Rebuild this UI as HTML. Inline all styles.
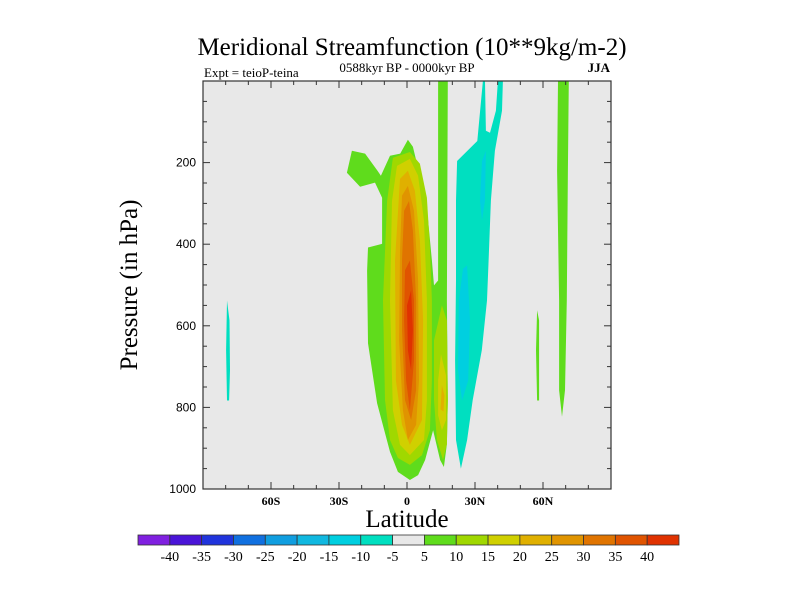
<!DOCTYPE html>
<html><head><meta charset="utf-8"><style>
body{margin:0;background:#fff;width:800px;height:600px;overflow:hidden}
svg{display:block}
.serif{font-family:"Liberation Serif",serif}
.sans{font-family:"Liberation Sans",sans-serif}
</style></head><body>
<svg id="chart" width="800" height="600" xmlns="http://www.w3.org/2000/svg">
<text class="serif" x="412" y="55" font-size="25" text-anchor="middle">Meridional Streamfunction (10**9kg/m-2)</text>
<text class="serif" x="407" y="72" font-size="13" text-anchor="middle">0588kyr BP - 0000kyr BP</text>
<text class="serif" x="204" y="77" font-size="13">Expt = teioP-teina</text>
<text class="serif" x="610" y="72" font-size="13" font-weight="bold" text-anchor="end">JJA</text>
<text class="serif" font-size="25" text-anchor="middle" transform="translate(137,285) rotate(-90)">Pressure (in hPa)</text>
<text class="serif" x="407" y="527" font-size="25" text-anchor="middle">Latitude</text>
<g id="plot"></g>
<g id="bar"></g>
</svg>
<script>
const levels=[-45,-40,-35,-30,-25,-20,-15,-10,-5,5,10,15,20,25,30,35,40,45];
const colors=["#8020e0","#4a14d8","#2034dc","#1070e0","#109ee0","#10b8e0","#00cfe0","#00dfc0","#e8e8e8","#5fdc1c","#a0d800","#d0d000","#e0b000","#e09400","#e07400","#e05400","#e03200"];
const barLabels=["-40","-35","-30","-25","-20","-15","-10","-5","5","10","15","20","25","30","35","40"];
const xTicks=[-60,-30,0,30,60];
const xTickLabels=["60S","30S","0","30N","60N"];
const yTicks=[200,400,600,800,1000];
// contour regions: band lower bound v, then [lat, hPa] vertices
const regions=[
 {v:5,pts:[[-24.3,171],[-18.5,178],[-13,220],[-11.5,232],[-7.5,183],[-3,178],[0.4,144],[2.6,161],[5.7,232],[9.3,342],[11,440],[11.9,501],[13.7,489],[13.7,0],[18,0],[17.6,538],[18,782],[17.6,890],[16.3,946],[14.6,929],[11.5,856],[8,929],[4.9,966],[1.3,978],[-4,958],[-7.5,909],[-13.2,790],[-17.2,643],[-17.6,465],[-17.2,408],[-11,399],[-11,286],[-14.1,249],[-20.7,259],[-26.5,225]]},
 {v:10,pts:[[-6.2,188],[1.3,174],[5.7,203],[8.8,286],[10.1,408],[11,538],[11,734],[10.1,856],[6.6,917],[1.3,941],[-4,924],[-7.5,880],[-9.7,782],[-10.6,538],[-8.8,294]]},
 {v:10,pts:[[15.4,550],[17.6,587],[18,782],[17.6,890],[15.9,929],[13.2,880],[11.9,782],[11.9,636]]},
 {v:15,pts:[[15,670],[17.2,721],[17.2,831],[15.4,856],[13.7,819],[13.7,734]]},
 {v:20,pts:[[15.4,745],[16.5,770],[16.1,810],[14.8,805]]},
 {v:15,pts:[[-4.4,208],[1.3,191],[4.9,232],[7.5,342],[8.8,538],[8.8,782],[7.5,880],[1.3,917],[-3.1,892],[-6.2,807],[-7.5,538],[-6.6,294]]},
 {v:20,pts:[[-3.1,240],[0.4,220],[3.5,269],[5.7,391],[7.1,587],[6.6,831],[1.3,892],[-2.2,843],[-4.9,734],[-5.3,440]]},
 {v:25,pts:[[-2.2,281],[0.4,257],[3.1,318],[4.9,489],[5.3,734],[4,843],[0.4,880],[-1.8,807],[-3.5,636],[-3.1,416]]},
 {v:30,pts:[[-1.3,318],[0.9,294],[2.6,367],[4,538],[4,758],[1.8,831],[-0.9,782],[-2.2,611],[-2.2,440]]},
 {v:35,pts:[[-0.9,464],[1.3,440],[3.1,538],[3.1,685],[1.3,807],[-0.4,734],[-1.3,587]]},
 {v:40,pts:[[0,550],[1.8,513],[2.6,611],[1.8,709],[0.4,660]]},
 {v:-10,pts:[[22.1,196],[31,147],[33.5,0],[34.4,0],[34.8,122],[36.6,127],[39.2,73],[40.1,0],[42.3,0],[41.9,73],[38.8,171],[37,293],[36,440],[35.3,538],[33,660],[29,782],[26.5,880],[23.8,950],[21.6,880],[21.2,685],[21.6,489],[21.6,293]]},
 {v:-15,pts:[[33.1,196],[34.8,171],[34.4,293],[33.1,342],[32.2,293]]},
 {v:-15,pts:[[24.7,460],[26.5,452],[27.8,587],[27,734],[24.3,783],[22.5,709],[22.9,538]]},
 {v:5,pts:[[66.6,0],[71.4,0],[71,220],[70.5,538],[69.7,758],[68.4,823],[67.1,758],[67.1,538],[66.2,220]]},
 {v:5,pts:[[57.4,562],[58.3,587],[58.3,783],[57.4,783],[56.9,660]]},
 {v:-10,pts:[[-79.4,538],[-78.3,587],[-78.1,709],[-78.5,783],[-79.4,783],[-79.8,660]]}
];
const L=203,R=611,T=81,B=489;
const xs=lat=>L+(lat+90)/180*(R-L);
const ys=p=>T+p/1000*(B-T);
const NS="http://www.w3.org/2000/svg";
function mk(tag,attrs,parent){const e=document.createElementNS(NS,tag);for(const k in attrs)e.setAttribute(k,attrs[k]);parent.appendChild(e);return e;}
function colorFor(v){for(let i=0;i<colors.length;i++){if(v>=levels[i]&&v<levels[i+1])return colors[i];}return colors[colors.length-1];}
const plot=document.getElementById('plot');
const bg=mk('rect',{x:L,y:T,width:R-L,height:B-T,fill:"#e8e8e8"},plot);


regions.forEach((r,i)=>{
 const pg=mk('polygon',{points:r.pts.map(p=>xs(p[0]).toFixed(1)+","+ys(p[1]).toFixed(1)).join(" "),fill:colorFor(r.v)},plot);
 
 
});
const frame=mk('rect',{x:L,y:T,width:R-L,height:B-T,fill:"none",stroke:"#333",'stroke-width':1.2},plot);


for(let lat=-80;lat<=80;lat+=10){
 const x=xs(lat),len=(lat%30===0)?7:4;
 const t1=mk('line',{x1:x,x2:x,y1:B,y2:B-len,stroke:"#333"},plot);
 
 
 const t2=mk('line',{x1:x,x2:x,y1:T,y2:T+len,stroke:"#333"},plot);
 
 
}
xTicks.forEach((v,i)=>{
 const t=mk('text',{x:xs(v),y:B+16,'font-size':12,'font-weight':'bold','text-anchor':'middle',class:'serif'},plot);
 t.textContent=xTickLabels[i];
 
 
});
for(let p=50;p<1000;p+=50){
 const y=ys(p),len=(p%200===0)?7:4;
 const t1=mk('line',{x1:L,x2:L+len,y1:y,y2:y,stroke:"#333"},plot);
 
 
 const t2=mk('line',{x1:R,x2:R-len,y1:y,y2:y,stroke:"#333"},plot);
 
 
}
yTicks.forEach(v=>{
 const t=mk('text',{x:L-7,y:ys(v)+4,'font-size':12,'text-anchor':'end',class:'sans'},plot);
 t.textContent=v;
 
 
});
const bar=document.getElementById('bar');
const bx=138,bw=(679-138)/colors.length,by=535,bh=10;
colors.forEach((c,i)=>{
 const r=mk('rect',{x:bx+i*bw,y:by,width:bw,height:bh,fill:c,stroke:"#333",'stroke-width':0.8},bar);
 
 
});
barLabels.forEach((s,i)=>{
 const t=mk('text',{x:bx+(i+1)*bw,y:by+26,'font-size':14,'text-anchor':'middle',class:'serif'},bar);
 t.textContent=s;
 
 
});
</script>
</body></html>
